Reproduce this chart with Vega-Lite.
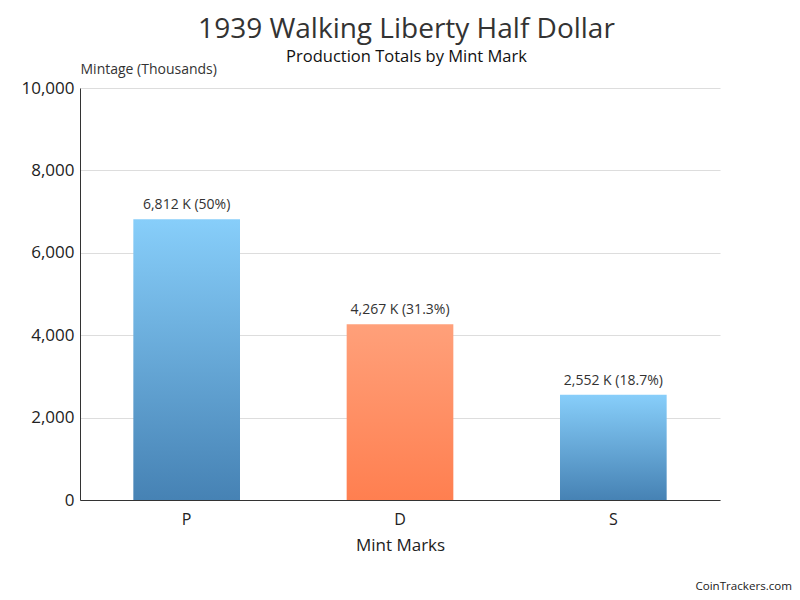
{
  "$schema": "https://vega.github.io/schema/vega-lite/v6.json",
  "background": "white",
  "padding": {"left": 20, "top": 15, "right": 8, "bottom": 5},
  "title": {
    "text": "1939 Walking Liberty Half Dollar",
    "subtitle": "Production Totals by Mint Mark",
    "anchor": "middle",
    "font": "Open Sans",
    "fontSize": 28,
    "fontWeight": "normal",
    "color": "#333333",
    "subtitleFont": "Open Sans",
    "subtitleFontSize": 16.5,
    "subtitleColor": "#111111",
    "subtitlePadding": 5,
    "offset": -3
  },
  "config": {
    "view": {"stroke": null},
    "font": "Open Sans"
  },
  "vconcat": [
    {
      "width": 640,
      "height": 412,
      "title": {
        "text": "CoinTrackers.com",
        "orient": "bottom",
        "anchor": "end",
        "font": "Open Sans",
        "fontSize": 11.6,
        "fontWeight": "normal",
        "color": "#222222",
        "dx": 72,
        "offset": 28
      },
      "data": {
        "values": [
          {"mint": "P", "mintage": 6812, "label": "6,812 K (50%)"},
          {"mint": "D", "mintage": 4267, "label": "4,267 K (31.3%)"},
          {"mint": "S", "mintage": 2552, "label": "2,552 K (18.7%)"}
        ]
      },
      "encoding": {
        "x": {
          "field": "mint",
          "type": "nominal",
          "sort": ["P", "D", "S"],
          "scale": {"paddingInner": 0.5, "paddingOuter": 0.25},
          "axis": {
            "title": "Mint Marks",
            "labelAngle": 0,
            "labelFontSize": 16,
            "labelColor": "#222222",
            "labelPadding": 11,
            "titleFontSize": 17,
            "titleFontWeight": "normal",
            "titleColor": "#222222",
            "titlePadding": 10,
            "ticks": false,
            "domainColor": "#333333",
            "domainWidth": 1
          }
        },
        "y": {
          "field": "mintage",
          "type": "quantitative",
          "scale": {"domain": [0, 10000]},
          "axis": {
            "title": "Mintage (Thousands)",
            "titleAngle": 0,
            "titleAlign": "left",
            "titleBaseline": "bottom",
            "titleX": 0,
            "titleY": -12,
            "titleFontSize": 14,
            "titleFontWeight": "normal",
            "titleColor": "#333333",
            "values": [0, 2000, 4000, 6000, 8000, 10000],
            "format": ",d",
            "labelFontSize": 17,
            "labelColor": "#222222",
            "labelPadding": 6,
            "ticks": false,
            "domainColor": "#333333",
            "gridColor": "#dddddd",
            "grid": true
          }
        }
      },
      "layer": [
        {
          "transform": [{"filter": "datum.mint !== 'D'"}],
          "mark": {
            "type": "bar",
            "color": {
              "gradient": "linear",
              "x1": 0, "y1": 0, "x2": 0, "y2": 1,
              "stops": [
                {"offset": 0, "color": "#87CEFA"},
                {"offset": 1, "color": "#4682B4"}
              ]
            }
          }
        },
        {
          "transform": [{"filter": "datum.mint === 'D'"}],
          "mark": {
            "type": "bar",
            "color": {
              "gradient": "linear",
              "x1": 0, "y1": 0, "x2": 0, "y2": 1,
              "stops": [
                {"offset": 0, "color": "#FFA07A"},
                {"offset": 1, "color": "#FF7F50"}
              ]
            }
          }
        },
        {
          "mark": {"type": "text", "baseline": "bottom", "dy": -7, "fontSize": 14, "color": "#333333"},
          "encoding": {"text": {"field": "label"}}
        }
      ]
    }
  ]
}
